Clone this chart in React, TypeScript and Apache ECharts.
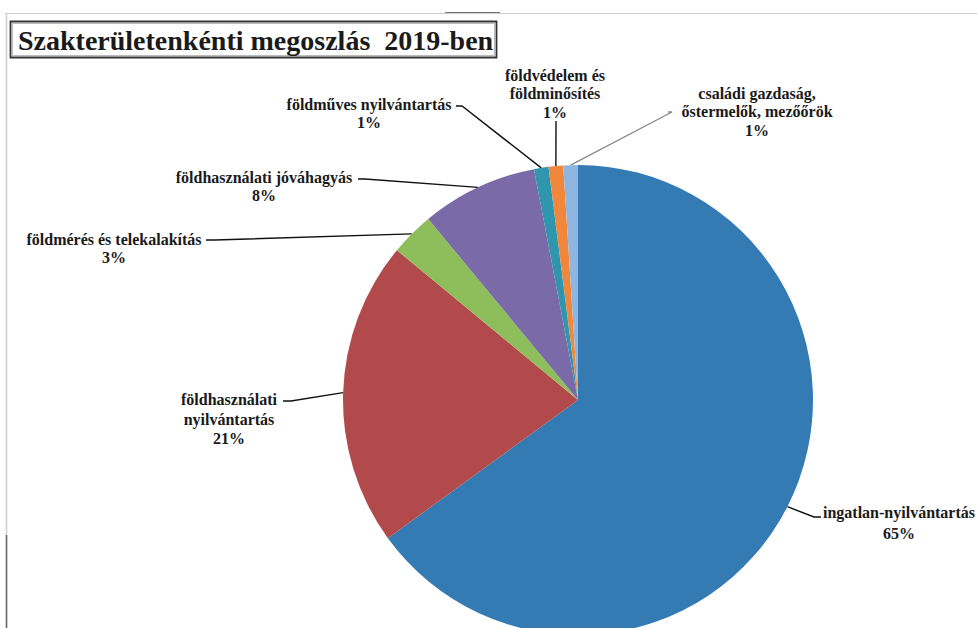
import React, { useEffect, useRef } from "react";
import * as echarts from "echarts";

const title = "Szakterületenkénti megoszlás  2019-ben";
const categories = [
  "ingatlan-nyilvántartás",
  "földhasználati\nnyilvántartás",
  "földmérés és telekalakítás",
  "földhasználati jóváhagyás",
  "földműves nyilvántartás",
  "földvédelem és\nföldminősítés",
  "családi gazdaság,\nőstermelők, mezőőrök",
];
const shares = [65, 21, 3, 8, 1, 1, 1];
const colors = ["#347ab3", "#b24a4b", "#8ebd5c", "#7a6aa8", "#2f96ad", "#f0873d", "#8fb6e0"];

// label placement (layout only): centre x, top y, line bend + end points
const labelSpots = [
  { x: 899, y: 502, lh: 21, line: [[814, 517], [821, 517]], lineColor: "#111" },
  { x: 229, y: 390, lh: 19.5, line: [[291, 401], [283, 401]], lineColor: "#111" },
  { x: 114, y: 230, lh: 18, line: [[215, 240], [206, 240]], lineColor: "#111" },
  { x: 264, y: 168, lh: 18, line: [[365, 179], [358, 179]], lineColor: "#111" },
  { x: 369, y: 96, lh: 17.5, line: [[462, 106], [456, 106]], lineColor: "#111" },
  { x: 555, y: 66, lh: 18.5, line: [[556, 122], [556, 121]], lineColor: "#111" },
  { x: 757, y: 84, lh: 18.5, line: [[672, 112], [668, 112]], lineColor: "#8a8a8a" },
];

export default function App() {
  const ref = useRef<HTMLDivElement>(null);
  useEffect(() => {
    document.body.style.margin = "0";
    const chart = echarts.init(ref.current!, null, { renderer: "svg" });
    const data = categories.map((name, i) => ({
      name,
      value: shares[i],
      itemStyle: { color: colors[i] },
      labelLine: { lineStyle: { color: labelSpots[i].lineColor, width: 1.4 } },
      label: { lineHeight: labelSpots[i].lh },
    }));
    chart.setOption({
      animation: false,
      backgroundColor: "#ffffff",
      graphic: [
        { type: "line", shape: { x1: 5, y1: 13.5, x2: 977, y2: 13.5 }, style: { stroke: "#cfcfcf", lineWidth: 1.2 } },
        { type: "line", shape: { x1: 445, y1: 12.5, x2: 500, y2: 12.5 }, style: { stroke: "#777", lineWidth: 1.2 } },
        { type: "line", shape: { x1: 6.5, y1: 13, x2: 6.5, y2: 628 }, style: { stroke: "#cfcfcf", lineWidth: 1.5 } },
        { type: "line", shape: { x1: 6.5, y1: 535, x2: 6.5, y2: 628 }, style: { stroke: "#666", lineWidth: 1.5 } },
        {
          type: "rect",
          shape: { x: 10.5, y: 21.5, width: 486, height: 36 },
          style: { fill: "#fff", stroke: "#333", lineWidth: 1.8 },
        },
        {
          type: "rect",
          shape: { x: 12.5, y: 23.5, width: 482, height: 32 },
          style: { fill: "none", stroke: "#aaa", lineWidth: 0.8 },
        },
        {
          type: "text",
          x: 18,
          y: 40,
          style: {
            text: title,
            fill: "#1a1a1a",
            fontFamily: "Liberation Serif",
            fontWeight: "bold",
            fontSize: 28,
            verticalAlign: "middle",
            align: "left",
          },
        },
      ],
      series: [
        {
          type: "pie",
          center: [578, 400],
          radius: 235,
          startAngle: 90,
          clockwise: true,
          avoidLabelOverlap: false,
          percentPrecision: 0,
          data,
          label: {
            show: true,
            position: "outside",
            formatter: "{b}\n{d}%",
            color: "#1a1a1a",
            fontFamily: "Liberation Serif",
            fontWeight: "bold",
            fontSize: 16,
            align: "center",
          },
          labelLine: { show: true, length: 10, length2: 10, smooth: false },
          labelLayout: (params: any) => {
            const s = labelSpots[params.dataIndex];
            const pts = params.labelLinePoints;
            const start = pts ? pts[0] : s.line[0];
            return {
              x: s.x,
              y: s.y,
              align: "center",
              verticalAlign: "top",
              moveOverlap: false,
              hideOverlap: false,
              labelLinePoints: [start, s.line[0], s.line[1]],
            };
          },
        },
      ],
    });
    return () => chart.dispose();
  }, []);
  return (
    <div
      ref={ref}
      style={{ position: "absolute", left: 0, top: 0, width: 977, height: 628 }}
    />
  );
}
